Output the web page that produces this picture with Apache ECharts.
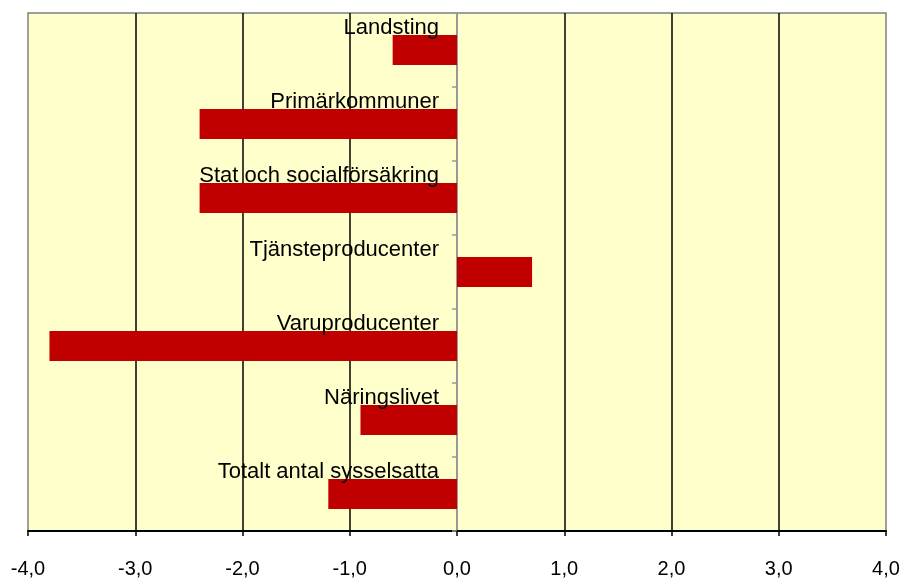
<!DOCTYPE html>
<html>
<head>
<meta charset="utf-8">
<script src="https://cdn.jsdelivr.net/npm/echarts@6/dist/echarts.min.js"></script>
<style>html,body{margin:0;padding:0;background:#fff}#c{width:908px;height:580px}</style>
</head>
<body>
<div id="c"></div>
<script>
// Categories listed bottom to top
const categories = ['Totalt antal sysselsatta','Näringslivet','Varuproducenter','Tjänsteproducenter','Stat och socialförsäkring','Primärkommuner','Landsting'];
const values = [-1.2, -0.9, -3.8, 0.7, -2.4, -2.4, -0.6];
const xMin = -4, xMax = 4, xStep = 1;

const chart = echarts.init(document.getElementById('c'), null, {renderer:'canvas'});
chart.setOption({
  animation: false,
  grid: {left: 28, right: 22, top: 13, bottom: 49, containLabel: false, outerBoundsMode: 'none',
    show: true, backgroundColor: '#FFFFCC', borderColor: '#808080', borderWidth: 1.5},
  xAxis: {
    type: 'value', min: xMin, max: xMax, interval: xStep,
    axisLine: {show: true, onZero: false, lineStyle: {color: '#000', width: 2}},
    axisTick: {show: true, length: 5, lineStyle: {color: '#000', width: 1.5}},
    splitLine: {show: true, showMinLine: false, showMaxLine: false, lineStyle: {color: '#000', width: 1.5}},
    axisLabel: {fontFamily: 'Liberation Sans, Arial, sans-serif', fontSize: 20, color: '#000', margin: 28,
      formatter: v => v.toFixed(1).replace('.', ',')}
  },
  yAxis: {
    type: 'category', data: categories,
    axisLine: {show: true, onZero: true, lineStyle: {color: '#999', width: 2}},
    axisTick: {show: true, length: 5, lineStyle: {color: '#999', width: 1.5}},
    splitLine: {show: false},
    axisLabel: {show: false}
  },
  series: [{
    type: 'bar', data: values, barWidth: 30,
    itemStyle: {color: '#C00000'}
  }, {
    type: 'scatter', symbolSize: 0, silent: true, z: 5,
    itemStyle: {opacity: 1},
    data: categories.map(c => [0, c]),
    label: {show: true, position: 'left', distance: 18, offset: [0, -22],
      formatter: p => p.value[1],
      fontFamily: 'Liberation Sans, Arial, sans-serif', fontSize: 22, color: '#000', textBorderWidth: 0}
  }]
});
</script>
</body>
</html>
